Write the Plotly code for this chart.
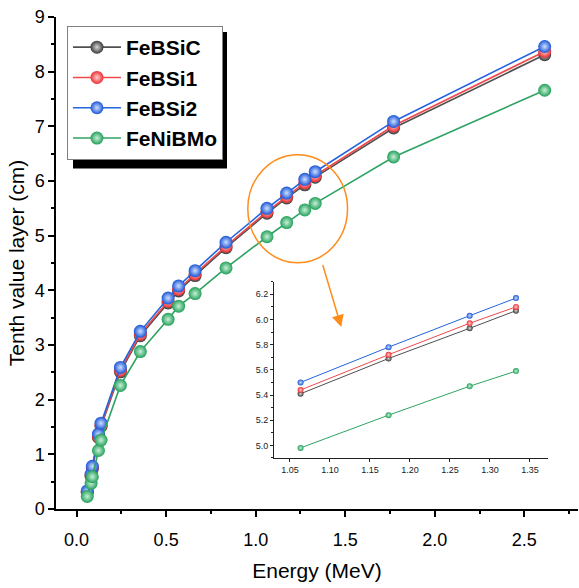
import plotly.graph_objects as go

# Photon energies (MeV) and tenth value layers (cm) of the four alloys
energy = [0.0595, 0.0810, 0.0880, 0.1221, 0.1365, 0.2447, 0.3560, 0.5110, 0.5697,
          0.6617, 0.8345, 1.0632, 1.1732, 1.2746, 1.3325, 1.7702, 2.6140]
tvl_febsic = [0.30, 0.60, 0.73, 1.31, 1.51, 2.51, 3.17, 3.77, 3.99,
              4.27, 4.78, 5.41, 5.69, 5.93, 6.07, 6.97, 8.31]
tvl_febsi1 = [0.31, 0.61, 0.75, 1.33, 1.53, 2.54, 3.20, 3.80, 4.02,
              4.30, 4.81, 5.44, 5.72, 5.97, 6.10, 7.01, 8.37]
tvl_febsi2 = [0.33, 0.64, 0.78, 1.37, 1.57, 2.59, 3.25, 3.86, 4.08,
              4.36, 4.88, 5.50, 5.78, 6.03, 6.17, 7.09, 8.46]
tvl_fenibmo = [0.23, 0.47, 0.59, 1.07, 1.26, 2.26, 2.88, 3.47, 3.71,
               3.94, 4.41, 4.98, 5.24, 5.47, 5.59, 6.44, 7.66]

series_names = ["FeBSiC", "FeBSi1", "FeBSi2", "FeNiBMo"]
series_values = [tvl_febsic, tvl_febsi1, tvl_febsi2, tvl_fenibmo]
line_colors = ["#505050", "#f0484b", "#2464dc", "#2ea362"]
marker_colors = ["#3a3a3a", "#ee2c30", "#1a55d6", "#23a05a"]
highlight_colors = ["#d8d8d8", "#ffd0d0", "#cfe0ff", "#c8f0d8"]

# zoomed window shown in the inset
zoom_lo, zoom_hi = 1.0, 1.4

FONT = "Arial, Liberation Sans, sans-serif"

fig = go.Figure()

for name, vals, lc, mc, hc in zip(series_names, series_values, line_colors,
                                  marker_colors, highlight_colors):
    fig.add_trace(go.Scatter(
        x=energy, y=vals, mode="lines+markers",
        name=f"<span style='font-size:21px'><b>{name}</b></span>",
        line=dict(color=lc, width=1.6),
        marker=dict(size=13, color=mc, line=dict(width=0),
                    gradient=dict(type="radial", color=hc)),
        xaxis="x", yaxis="y",
    ))

for name, vals, lc, mc, hc in zip(series_names, series_values, line_colors,
                                  marker_colors, highlight_colors):
    xs = [e for e in energy if zoom_lo < e < zoom_hi]
    ys = [v for e, v in zip(energy, vals) if zoom_lo < e < zoom_hi]
    fig.add_trace(go.Scatter(
        x=xs, y=ys, mode="lines+markers", showlegend=False,
        line=dict(color=lc, width=1),
        marker=dict(size=6, color=mc, line=dict(width=0),
                    gradient=dict(type="radial", color=hc)),
        xaxis="x2", yaxis="y2",
    ))

axis_font = dict(family=FONT, size=18, color="black")

fig.update_layout(
    width=579, height=588,
    margin=dict(l=56, r=1, t=17, b=79),
    paper_bgcolor="white", plot_bgcolor="white",
    font=dict(family=FONT, color="black"),
    xaxis=dict(
        domain=[0, 1], range=[-0.115, 2.8],
        tick0=0, dtick=0.5, tickformat=".1f",
        ticks="outside", ticklen=6, tickwidth=1.5, tickcolor="black",
        minor=dict(dtick=0.25, tick0=0, ticks="outside", ticklen=3,
                   tickwidth=1.5, tickcolor="black"),
        showline=True, linecolor="black", linewidth=1.5,
        showgrid=False, zeroline=False, tickfont=axis_font,
        ticklabelstandoff=8,
        title=dict(text="Energy (MeV)", font=dict(family=FONT, size=21),
                   standoff=14),
    ),
    yaxis=dict(
        domain=[0, 1], range=[0, 9],
        tick0=0, dtick=1,
        ticks="outside", ticklen=6, tickwidth=1.5, tickcolor="black",
        minor=dict(dtick=0.5, tick0=0, ticks="outside", ticklen=3,
                   tickwidth=1.5, tickcolor="black"),
        showline=True, linecolor="black", linewidth=1.5,
        showgrid=False, zeroline=False, tickfont=axis_font,
        title=dict(text="Tenth value layer (cm)", font=dict(family=FONT, size=21),
                   standoff=4),
    ),
    # frame axes along the top and right edges
    xaxis3=dict(
        overlaying="x", side="top", anchor="y", range=[0, 10],
        tick0=0, dtick=2, ticks="inside", ticklen=8, tickwidth=1.5,
        tickcolor="black",
        minor=dict(dtick=1, tick0=0, ticks="inside", ticklen=4,
                   tickwidth=1.5, tickcolor="black"),
        showticklabels=False, showline=True, linecolor="black", linewidth=1.5,
        showgrid=False, zeroline=False,
    ),
    yaxis3=dict(
        overlaying="y", side="right", anchor="x", range=[0, 10],
        tick0=0, dtick=2, ticks="inside", ticklen=8, tickwidth=1.5,
        tickcolor="black",
        minor=dict(dtick=1, tick0=0, ticks="inside", ticklen=4,
                   tickwidth=1.5, tickcolor="black"),
        showticklabels=False, showline=True, linecolor="black", linewidth=1.5,
        showgrid=False, zeroline=False,
    ),
    # inset axes
    xaxis2=dict(
        domain=[0.4176, 0.9425], anchor="y2", range=[1.03, 1.3725],
        tick0=1.05, dtick=0.05, tickformat=".2f",
        ticks="outside", ticklen=3, tickwidth=1, tickcolor="#222",
        showline=True, linecolor="#222", linewidth=1,
        showgrid=False, zeroline=False,
        tickfont=dict(family=FONT, size=9, color="#222"),
    ),
    yaxis2=dict(
        domain=[0.1037, 0.462], anchor="x2", range=[4.9, 6.3],
        tick0=5.0, dtick=0.2, tickformat=".1f",
        ticks="outside", ticklen=3, tickwidth=1, tickcolor="#222",
        minor=dict(dtick=0.1, tick0=5.0, ticks="outside", ticklen=2,
                   tickwidth=1, tickcolor="#222"),
        showline=True, linecolor="#222", linewidth=1,
        showgrid=False, zeroline=False,
        tickfont=dict(family=FONT, size=9, color="#222"),
    ),
    legend=dict(
        x=0.021, y=0.9817, xanchor="left", yanchor="top",
        bgcolor="white", bordercolor="#808080", borderwidth=1,
        font=dict(family=FONT, size=21, color="black"),
        itemwidth=48, tracegroupgap=0,
    ),
    showlegend=True,
)

# legend drop shadow
fig.add_shape(type="rect", xref="paper", yref="paper",
              x0=0.0326, x1=0.3276, y0=0.692, y1=0.9695,
              fillcolor="black", line=dict(width=0), layer="above")

# highlight ring around the zoomed region
fig.add_shape(type="circle", xref="x", yref="y",
              x0=0.956, x1=1.513, y0=4.505, y1=6.48,
              line=dict(color="#ff8c1a", width=1.5), layer="above")

fig.add_annotation(x=1.478, y=3.33, ax=1.372, ay=4.49,
                   xref="x", yref="y", axref="x", ayref="y",
                   text="", showarrow=True, arrowhead=2, arrowsize=1.6,
                   arrowwidth=1.5, arrowcolor="#ff8c1a")

fig.write_html("out.html")
